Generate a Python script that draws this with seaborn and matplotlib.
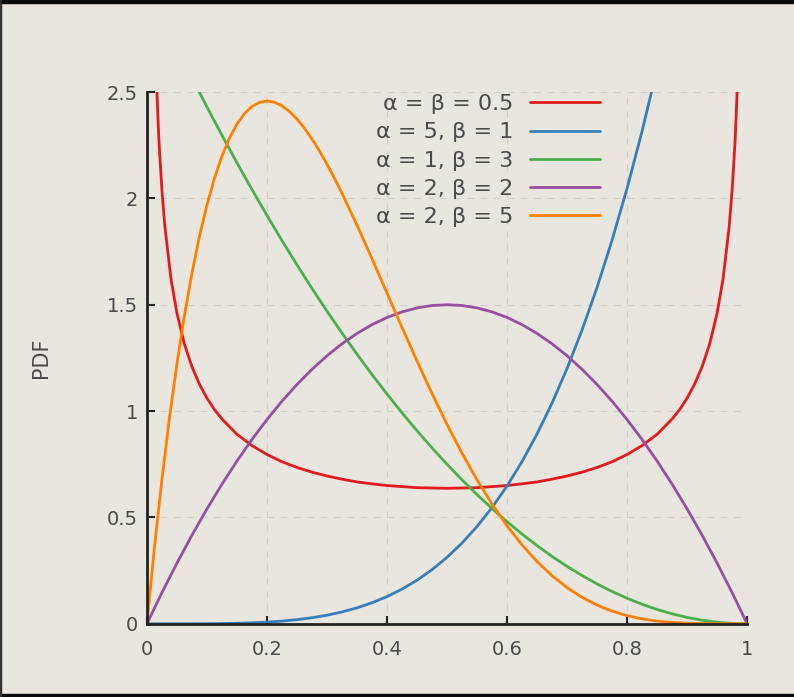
import pandas as pd
import seaborn as sns
import matplotlib.pyplot as plt
from matplotlib.patches import Rectangle

# shared x grid for the smooth curves
x = [0.0, 0.025, 0.05, 0.075, 0.1, 0.125, 0.15, 0.175, 0.2, 0.225, 0.25, 0.275, 0.3, 0.325,
     0.35, 0.375, 0.4, 0.425, 0.45, 0.475, 0.5, 0.525, 0.55, 0.575, 0.6, 0.625, 0.65, 0.675,
     0.7, 0.725, 0.75, 0.775, 0.8, 0.825, 0.85, 0.875, 0.9, 0.925, 0.95, 0.975, 1.0]

# alpha = beta = 0.5 : own grid, denser near the edges
x_half = [0.005, 0.01, 0.0125, 0.015, 0.02, 0.025, 0.03, 0.04, 0.05, 0.0625, 0.075, 0.0875,
          0.1, 0.1125, 0.125, 0.15, 0.175, 0.2, 0.225, 0.25, 0.275, 0.3, 0.325, 0.35, 0.375,
          0.4, 0.45, 0.5, 0.55, 0.6, 0.625, 0.65, 0.675, 0.7, 0.725, 0.75, 0.775, 0.8, 0.825,
          0.85, 0.875, 0.8875, 0.9, 0.9125, 0.925, 0.9375, 0.95, 0.96, 0.97, 0.975, 0.98,
          0.985, 0.9875, 0.99, 0.995]
pdf_half = [4.513, 3.199, 2.865, 2.619, 2.274, 2.039, 1.866, 1.624, 1.461, 1.315, 1.209, 1.127,
            1.061, 1.007, 0.963, 0.891, 0.838, 0.796, 0.762, 0.735, 0.713, 0.695, 0.680, 0.667,
            0.658, 0.650, 0.640, 0.637, 0.640, 0.650, 0.658, 0.667, 0.680, 0.695, 0.713, 0.735,
            0.762, 0.796, 0.838, 0.891, 0.963, 1.007, 1.061, 1.127, 1.209, 1.315, 1.461, 1.624,
            1.866, 2.039, 2.274, 2.619, 2.865, 3.199, 4.513]

pdf_5_1 = [0.0, 0.00002, 0.00003, 0.00016, 0.0005, 0.0012, 0.0025, 0.0047, 0.008, 0.0128,
           0.0195, 0.0286, 0.0405, 0.0558, 0.075, 0.0989, 0.128, 0.1631, 0.205, 0.2545, 0.3125,
           0.3798, 0.4575, 0.5466, 0.648, 0.7629, 0.8925, 1.038, 1.2005, 1.3814, 1.582, 1.8038,
           2.048, 2.3162, 2.61, 2.9309, 3.2805, 3.6605, 4.0725, 4.5184, 5.0]

pdf_1_3 = [3.0, 2.8519, 2.7075, 2.5669, 2.43, 2.2969, 2.1675, 2.0419, 1.92, 1.8019, 1.6875,
           1.5769, 1.47, 1.3669, 1.2675, 1.1719, 1.08, 0.9919, 0.9075, 0.8269, 0.75, 0.6769,
           0.6075, 0.5419, 0.48, 0.4219, 0.3675, 0.3169, 0.27, 0.2269, 0.1875, 0.1519, 0.12,
           0.0919, 0.0675, 0.0469, 0.03, 0.0169, 0.0075, 0.0019, 0.0]

pdf_2_2 = [0.0, 0.1463, 0.285, 0.4163, 0.54, 0.6563, 0.765, 0.8663, 0.96, 1.0463, 1.125,
           1.1963, 1.26, 1.3163, 1.365, 1.4063, 1.44, 1.4663, 1.485, 1.4963, 1.5, 1.4963, 1.485,
           1.4663, 1.44, 1.4063, 1.365, 1.3163, 1.26, 1.1963, 1.125, 1.0463, 0.96, 0.8663, 0.765,
           0.6563, 0.54, 0.4163, 0.285, 0.1463, 0.0]

# alpha = 2, beta = 5 : own grid, denser around the peak
x_2_5 = [0.0, 0.0125, 0.025, 0.0375, 0.05, 0.0625, 0.075, 0.0875, 0.1, 0.1125, 0.125, 0.1375,
         0.15, 0.1625, 0.175, 0.1875, 0.2, 0.2125, 0.225, 0.2375, 0.25, 0.2625, 0.275, 0.2875,
         0.3, 0.3125, 0.325, 0.35, 0.375, 0.4, 0.425, 0.45, 0.475, 0.5, 0.525, 0.55, 0.575, 0.6,
         0.625, 0.65, 0.675, 0.7, 0.725, 0.75, 0.775, 0.8, 0.825, 0.85, 0.875, 0.9, 0.925, 0.95,
         0.975, 1.0]
pdf_2_5 = [0.0, 0.3566, 0.6778, 0.9655, 1.2218, 1.4484, 1.6472, 1.82, 1.9683, 2.0939, 2.1982,
           2.2828, 2.349, 2.3984, 2.4321, 2.4514, 2.4576, 2.4518, 2.4351, 2.4085, 2.373, 2.3297,
           2.2793, 2.2228, 2.1609, 2.0944, 2.024, 1.8743, 1.7166, 1.5552, 1.3937, 1.2353, 1.0826,
           0.9375, 0.8018, 0.6766, 0.5628, 0.4608, 0.3708, 0.2926, 0.2259, 0.1701, 0.1244,
           0.0879, 0.0596, 0.0384, 0.0232, 0.0129, 0.0064, 0.0027, 0.0009, 0.0002, 0.0, 0.0]

labels = ["α = β = 0.5", "α = 5, β = 1", "α = 1, β = 3", "α = 2, β = 2", "α = 2, β = 5"]
colors = ["#e41a1c", "#377eb8", "#4daf4a", "#984ea3", "#ff7f00"]

bg = "#e8e6df"
txt = "#4a4a4a"
sns.set_theme(style="ticks", rc={"axes.facecolor": bg, "figure.facecolor": bg})
plt.rcParams["font.family"] = ["DejaVu Sans"]

df = pd.concat([
    pd.DataFrame({"x": x_half, "pdf": pdf_half, "curve": labels[0]}),
    pd.DataFrame({"x": x, "pdf": pdf_5_1, "curve": labels[1]}),
    pd.DataFrame({"x": x, "pdf": pdf_1_3, "curve": labels[2]}),
    pd.DataFrame({"x": x, "pdf": pdf_2_2, "curve": labels[3]}),
    pd.DataFrame({"x": x_2_5, "pdf": pdf_2_5, "curve": labels[4]}),
])

fig = plt.figure(figsize=(7.94, 6.97), dpi=100)
ax = fig.add_axes([0.185, 0.105, 0.756, 0.763])

sns.lineplot(data=df, x="x", y="pdf", hue="curve", hue_order=labels, palette=colors,
             linewidth=2, ax=ax, sort=False, estimator=None)

ax.set_xlim(0, 1)
ax.set_ylim(0, 2.5)
ax.set_xticks([0, 0.2, 0.4, 0.6, 0.8, 1])
ax.set_xticklabels(["0", "0.2", "0.4", "0.6", "0.8", "1"])
ax.set_yticks([0, 0.5, 1, 1.5, 2, 2.5])
ax.set_yticklabels(["0", "0.5", "1", "1.5", "2", "2.5"])
ax.grid(True, color="#d0cec6", linestyle=(0, (6, 6)), linewidth=0.8)
ax.set_axisbelow(True)

for s in ["top", "right"]:
    ax.spines[s].set_visible(False)
for s in ["left", "bottom"]:
    ax.spines[s].set_color("#222222")
    ax.spines[s].set_linewidth(2)
ax.tick_params(direction="in", length=6, width=1.5, color="#222222",
               labelcolor=txt, labelsize=14)
ax.tick_params(axis="x", pad=12)
ax.tick_params(axis="y", pad=6.5)

ax.set_xlabel("")
ax.set_ylabel("PDF", fontsize=15, color=txt, labelpad=40)

leg = ax.legend(loc="upper right", bbox_to_anchor=(0.755, 0.996), frameon=False,
                markerfirst=False, fontsize=16, handlelength=3.15, labelspacing=0.37,
                handletextpad=0.75, borderpad=0, borderaxespad=0)
for t in leg.get_texts():
    t.set_color(txt)
    t.set_ha("right")

# dark frame bars around the picture
fig.patches.append(Rectangle((0, 0.995), 1, 0.005, transform=fig.transFigure, color="#0a0a0a"))
fig.patches.append(Rectangle((0, 0), 1, 0.005, transform=fig.transFigure, color="#0a0a0a"))
fig.patches.append(Rectangle((0, 0), 0.0015, 1, transform=fig.transFigure, color="#333333"))

fig.savefig("out.png", dpi=100, facecolor=bg)
